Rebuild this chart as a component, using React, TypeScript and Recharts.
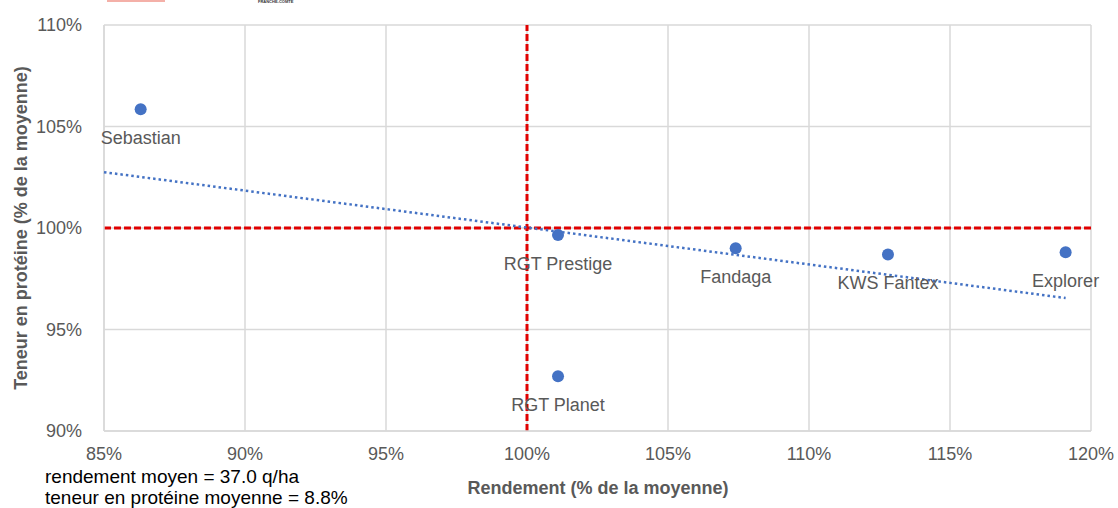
import { CartesianGrid, LabelList, ReferenceLine, Scatter, ScatterChart, XAxis, YAxis } from "recharts";

// varieties: yield (% of mean) vs protein content (% of mean)
const varieties = ["Sebastian", "RGT Prestige", "RGT Planet", "Fandaga", "KWS Fantex", "Explorer"];
const rendement = [86.3, 101.1, 101.1, 107.4, 112.8, 119.1];
const proteine = [105.85, 99.65, 92.7, 99.0, 98.7, 98.8];

// linear trend line end points
const trendX = [85, 119.1];
const trendY = [102.75, 96.55];

const xTicks = [85, 90, 95, 100, 105, 110, 115, 120];
const yTicks = [90, 95, 100, 105, 110];

const points = varieties.map((name, i) => ({ name, x: rendement[i], y: proteine[i] }));
const trend = trendX.map((x, i) => ({ x, y: trendY[i] }));

const font = "'Liberation Sans', Arial, sans-serif";
const grey = "#595959";

const Dot = (props: any) => <circle cx={props.cx} cy={props.cy} r={6} fill="#4472c4" />;

const PointLabel = (props: any) => {
  const { x, y, width, height, value } = props;
  return (
    <text
      x={x + width / 2}
      y={y + height / 2 + 29}
      textAnchor="middle"
      dominantBaseline="central"
      fill={grey}
      fontSize={18}
      fontFamily={font}
    >
      {value}
    </text>
  );
};

export default function App() {
  return (
    <div style={{ position: "absolute", left: 0, top: 0, width: 1118, height: 508, background: "#fff", fontFamily: font, overflow: "hidden" }}>
      <div style={{ position: "absolute", left: 107, top: 0, width: 58, height: 2, background: "#f4b0a8" }} />
      <div style={{ position: "absolute", left: 258, top: -1, fontSize: 4, fontWeight: 700, color: "#333" }}>FRANCHE-COMTE</div>

      <ScatterChart width={1118} height={508} margin={{ top: 25, right: 27, bottom: 0, left: 0 }}>
        <CartesianGrid stroke="#d9d9d9" strokeWidth={1.5} />
        <XAxis
          type="number"
          dataKey="x"
          domain={[85, 120]}
          ticks={xTicks}
          tickFormatter={(v) => `${v}%`}
          axisLine={{ stroke: "#d9d9d9", strokeWidth: 1.5 }}
          tickLine={false}
          tickMargin={10}
          tick={{ fill: grey, fontSize: 18, fontFamily: font }}
          height={77}
        />
        <YAxis
          type="number"
          dataKey="y"
          domain={[90, 110]}
          ticks={yTicks}
          tickFormatter={(v) => `${v}%`}
          axisLine={{ stroke: "#d9d9d9", strokeWidth: 1.5 }}
          tickLine={false}
          tickMargin={16}
          tick={{ fill: grey, fontSize: 18, fontFamily: font }}
          width={104}
        />
        <ReferenceLine x={100} stroke="#e00000" strokeWidth={3} strokeDasharray="7 3" />
        <ReferenceLine y={100} stroke="#e00000" strokeWidth={3} strokeDasharray="7 3" />
        <Scatter
          data={trend}
          line={{ stroke: "#4472c4", strokeWidth: 2.5, strokeDasharray: "2.5 3" }}
          shape={() => <g />}
          isAnimationActive={false}
        />
        <Scatter data={points} shape={Dot} isAnimationActive={false}>
          <LabelList dataKey="name" content={PointLabel} />
        </Scatter>
      </ScatterChart>

      <div
        style={{
          position: "absolute",
          left: 21,
          top: 228,
          transform: "translate(-50%, -50%) rotate(-90deg)",
          whiteSpace: "nowrap",
          fontWeight: 700,
          fontSize: 18,
          color: grey,
        }}
      >
        Teneur en protéine (% de la moyenne)
      </div>
      <div
        style={{
          position: "absolute",
          left: 598,
          top: 488,
          transform: "translate(-50%, -50%)",
          whiteSpace: "nowrap",
          fontWeight: 700,
          fontSize: 18,
          color: grey,
        }}
      >
        Rendement (% de la moyenne)
      </div>
      <div style={{ position: "absolute", left: 45, top: 466, fontSize: 19, color: "#000", lineHeight: "21px", whiteSpace: "nowrap" }}>
        rendement moyen = 37.0 q/ha
        <br />
        teneur en protéine moyenne = 8.8%
      </div>
    </div>
  );
}
